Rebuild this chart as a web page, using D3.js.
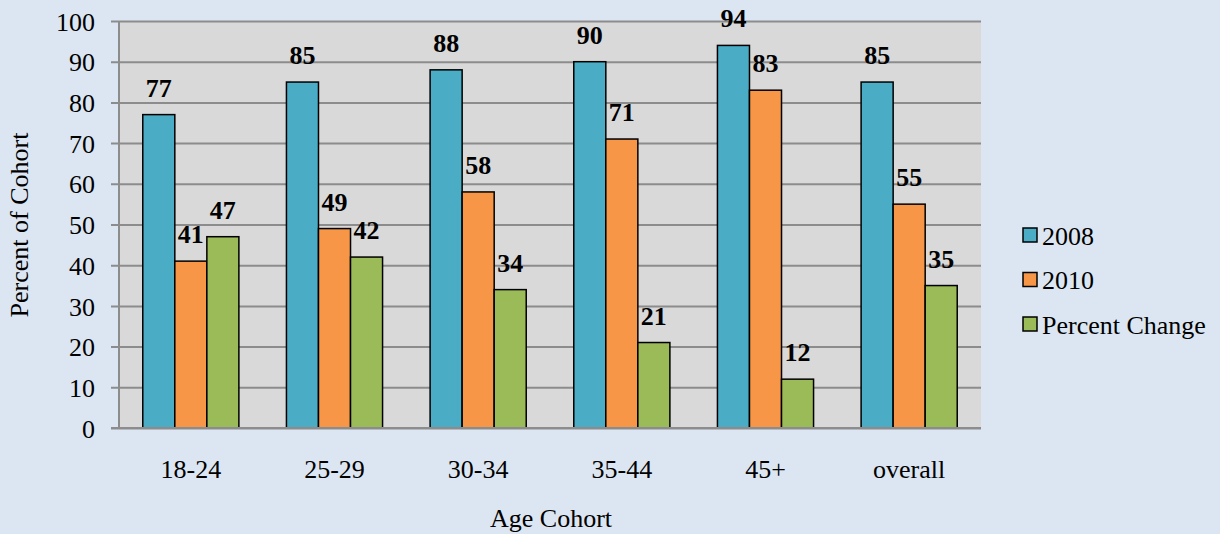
<!DOCTYPE html>
<html>
<head>
<meta charset="utf-8">
<script src="https://cdn.jsdelivr.net/npm/d3@7"></script>
<style>
  html, body { margin: 0; padding: 0; background: #dce6f2; }
  svg { display: block; }
  text { font-family: "Liberation Serif", "Times New Roman", serif; fill: #000; }
</style>
</head>
<body>
<svg id="chart" width="1220" height="534"></svg>
<script>
// Age cohorts and the three series plotted for each
const categories = ["18-24", "25-29", "30-34", "35-44", "45+", "overall"];
const seriesNames = ["2008", "2010", "Percent Change"];
const values2008 = [77, 85, 88, 90, 94, 85];
const values2010 = [41, 49, 58, 71, 83, 55];
const valuesChange = [47, 42, 34, 21, 12, 35];
const yTicks = [0, 10, 20, 30, 40, 50, 60, 70, 80, 90, 100];
const colors = ["#4bacc6", "#f79646", "#9bbb59"];

const seriesValues = [values2008, values2010, valuesChange];

const svg = d3.select("#chart");
const plot = { left: 119, right: 981, top: 21, bottom: 428 };
const fontSize = 26;

const x0 = d3.scaleBand().domain(categories).range([plot.left, plot.right]).paddingInner(0.331).paddingOuter(0.1655);
const x1 = d3.scaleBand().domain(seriesNames).range([0, x0.bandwidth()]);
const y = d3.scaleLinear().domain([0, 100]).range([plot.bottom, plot.top]);

// plot area background
svg.append("rect")
  .attr("x", plot.left).attr("y", plot.top)
  .attr("width", plot.right - plot.left).attr("height", plot.bottom - plot.top)
  .attr("fill", "#d9d9d9");

// horizontal gridlines with tick marks to the left of the axis
const yAxis = d3.axisLeft(y).tickValues(yTicks).tickSize(-(plot.right - plot.left)).tickPadding(24).tickFormat(d3.format("d"));
const gy = svg.append("g").attr("transform", `translate(${plot.left},0)`).call(yAxis);
gy.select(".domain").remove();
gy.selectAll(".tick line").attr("stroke", "#8c8c8c").attr("stroke-width", 2).attr("x1", -8);
gy.selectAll(".tick text").attr("font-size", fontSize).attr("fill", "#000").attr("dy", "0.35em");

// vertical axis line
svg.append("line")
  .attr("x1", plot.left).attr("x2", plot.left)
  .attr("y1", plot.top).attr("y2", plot.bottom)
  .attr("stroke", "#8c8c8c").attr("stroke-width", 2);

// grouped bars
const groups = svg.append("g").selectAll("g")
  .data(categories)
  .join("g")
  .attr("transform", d => `translate(${x0(d)},0)`);

const cells = (c, i) => seriesNames.map((s, j) => ({ series: s, value: seriesValues[j][i], j }));

groups.selectAll("rect")
  .data(cells)
  .join("rect")
  .attr("x", d => x1(d.series))
  .attr("y", d => y(d.value))
  .attr("width", x1.bandwidth())
  .attr("height", d => y(0) - y(d.value))
  .attr("fill", d => colors[d.j])
  .attr("stroke", "#000")
  .attr("stroke-width", 1.5);

// value labels above bars
groups.selectAll("text.value")
  .data(cells)
  .join("text")
  .attr("class", "value")
  .attr("x", d => x1(d.series) + x1.bandwidth() / 2)
  .attr("y", d => y(d.value) - 18)
  .attr("text-anchor", "middle")
  .attr("font-size", fontSize)
  .attr("font-weight", "bold")
  .text(d => d.value);

// baseline axis
svg.append("line")
  .attr("x1", plot.left - 8).attr("x2", plot.right)
  .attr("y1", plot.bottom).attr("y2", plot.bottom)
  .attr("stroke", "#8c8c8c").attr("stroke-width", 2);

// category labels
svg.append("g").selectAll("text")
  .data(categories)
  .join("text")
  .attr("x", d => x0(d) + x0.bandwidth() / 2)
  .attr("y", 478)
  .attr("text-anchor", "middle")
  .attr("font-size", fontSize)
  .text(d => d);

// axis titles
svg.append("text")
  .attr("x", 551).attr("y", 527)
  .attr("text-anchor", "middle")
  .attr("font-size", fontSize)
  .text("Age Cohort");

svg.append("text")
  .attr("transform", "translate(28,225) rotate(-90)")
  .attr("text-anchor", "middle")
  .attr("font-size", fontSize)
  .text("Percent of Cohort");

// legend
const legend = svg.append("g").selectAll("g")
  .data(seriesNames)
  .join("g")
  .attr("transform", (d, i) => `translate(1023,${228 + i * 44.5})`);

legend.append("rect")
  .attr("width", 14).attr("height", 14)
  .attr("fill", (d, i) => colors[i])
  .attr("stroke", "#000").attr("stroke-width", 1.5);

legend.append("text")
  .attr("x", 19).attr("y", 16.5)
  .attr("font-size", fontSize)
  .text(d => d);
</script>
</body>
</html>
